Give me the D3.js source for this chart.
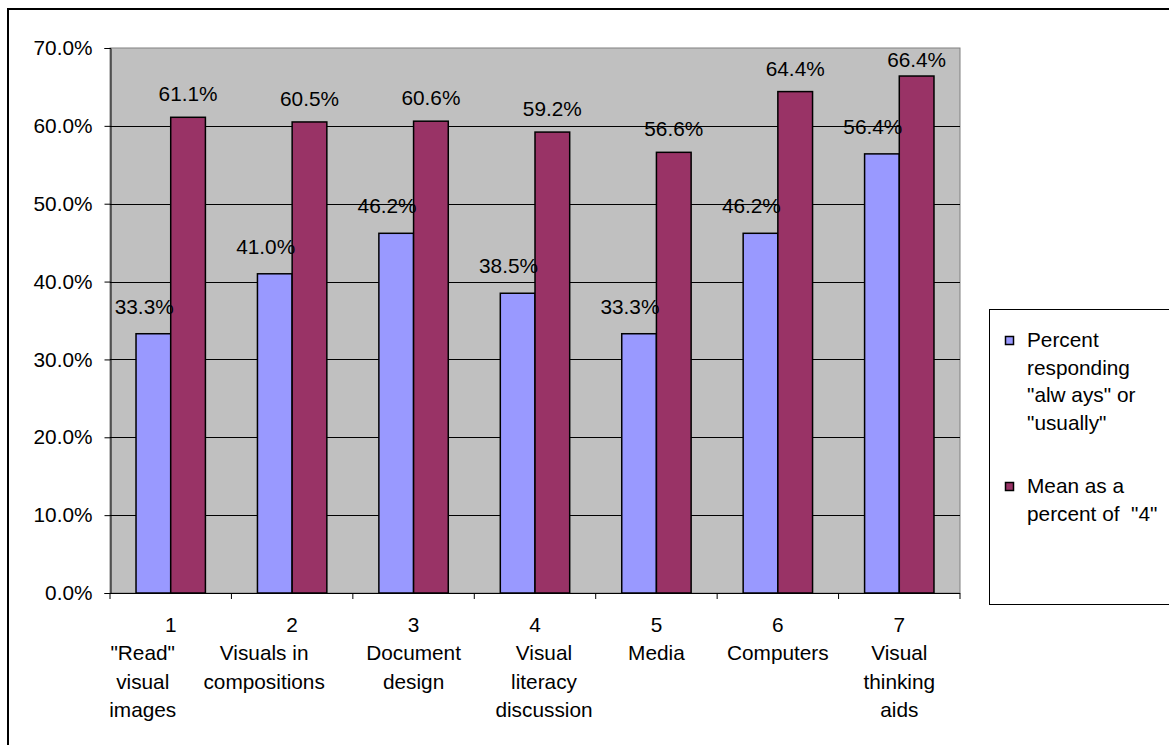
<!DOCTYPE html>
<html>
<head>
<meta charset="utf-8">
<script src="https://cdn.jsdelivr.net/npm/d3@7"></script>
<style>
  html, body { margin: 0; padding: 0; background: #fff; }
  svg { display: block; }
  text { font-family: "Liberation Sans", Arial, sans-serif; fill: #000; }
</style>
</head>
<body>
<svg id="chart" width="1169" height="745"></svg>
<script>
// ---- data ----
const categories = ["1", "2", "3", "4", "5", "6", "7"];
const categoryLines = [
  ["1", "\"Read\"", "visual", "images"],
  ["2", "Visuals in", "compositions"],
  ["3", "Document", "design"],
  ["4", "Visual", "literacy", "discussion"],
  ["5", "Media"],
  ["6", "Computers"],
  ["7", "Visual", "thinking", "aids"]
];
const seriesNames = ["Percent responding \"always\" or \"usually\"", "Mean as a percent of \"4\""];
const percentResponding = [33.3, 41.0, 46.2, 38.5, 33.3, 46.2, 56.4];
const meanPercent = [61.1, 60.5, 60.6, 59.2, 56.6, 64.4, 66.4];
const yTicks = [0, 10, 20, 30, 40, 50, 60, 70];
const legendLines = [
  ["Percent", "responding", "\"alw ays\" or", "\"usually\""],
  ["Mean as a", "percent of  \"4\""]
];

// ---- layout / style ----
const FS = 20.8;
const colors = ["#9999FF", "#993366"];
const plot = { left: 110, right: 960, top: 48, bottom: 593 };
const svg = d3.select("#chart");

// outer chart border
svg.append("rect")
  .attr("x", 8).attr("y", 9).attr("width", 1200).attr("height", 800)
  .attr("fill", "#fff").attr("stroke", "#000").attr("stroke-width", 2);

const x = d3.scaleBand().domain(categories).range([plot.left, plot.right]).padding(0);
const bw = x.bandwidth() / 3.5;
const xs = d3.scaleBand().domain([0, 1]).range([bw * 0.75, bw * 2.75]).padding(0);
const y = d3.scaleLinear().domain([0, 70]).range([plot.bottom, plot.top]);

// plot area
svg.append("rect")
  .attr("x", plot.left).attr("y", plot.top)
  .attr("width", plot.right - plot.left).attr("height", plot.bottom - plot.top)
  .attr("fill", "#C0C0C0").attr("stroke", "#808080").attr("stroke-width", 1);

// gridlines
svg.append("g").selectAll("line").data(yTicks.filter(d => d > 0 && d < 70)).join("line")
  .attr("x1", plot.left).attr("x2", plot.right)
  .attr("y1", d => Math.round(y(d)) + 0.5).attr("y2", d => Math.round(y(d)) + 0.5)
  .attr("stroke", "#000").attr("stroke-width", 1);

// y axis
const yAxis = d3.axisLeft(y).tickValues(yTicks).tickSize(6).tickPadding(12)
  .tickFormat(d => d.toFixed(1) + "%");
const gy = svg.append("g").attr("transform", `translate(${plot.left + 0.5},0)`).call(yAxis);
gy.select(".domain").attr("stroke", "#000");
gy.selectAll(".tick line").attr("stroke", "#000");
gy.selectAll(".tick text").attr("font-size", FS).attr("font-family", "Liberation Sans, Arial, sans-serif").attr("fill", "#000");

// bars
const seriesData = [percentResponding, meanPercent];
seriesData.forEach((vals, si) => {
  svg.append("g").selectAll("rect").data(vals).join("rect")
    .attr("x", (d, i) => x(categories[i]) + xs(si))
    .attr("y", d => y(d))
    .attr("width", xs.bandwidth())
    .attr("height", d => y(0) - y(d))
    .attr("fill", colors[si]).attr("stroke", "#000").attr("stroke-width", 1.5);
});

// x axis (category boundaries)
svg.append("line").attr("x1", plot.left).attr("x2", plot.right)
  .attr("y1", plot.bottom + 0.5).attr("y2", plot.bottom + 0.5).attr("stroke", "#000");
const bounds = categories.map(c => x(c)).concat([plot.right]);
svg.append("g").selectAll("line").data(bounds).join("line")
  .attr("x1", d => d).attr("x2", d => d)
  .attr("y1", plot.bottom).attr("y2", plot.bottom + 6).attr("stroke", "#000");

// category labels
const nudge = [-28, -28, 0, 9, 0, 0, 0];
categoryLines.forEach((lines, i) => {
  const cx = x(categories[i]) + x.bandwidth() / 2;
  const t = svg.append("text").attr("font-size", FS).attr("text-anchor", "middle");
  lines.forEach((ln, j) => {
    t.append("tspan").attr("x", cx + (j === 0 ? 0 : nudge[i])).attr("y", 632 + j * 28.4).text(ln);
  });
});

// data labels
svg.append("g").selectAll("text").data(percentResponding).join("text")
  .attr("font-size", FS).attr("text-anchor", "end")
  .attr("x", (d, i) => x(categories[i]) + xs(1) + 3)
  .attr("y", d => y(d) - 20)
  .text(d => d.toFixed(1) + "%");
svg.append("g").selectAll("text").data(meanPercent).join("text")
  .attr("font-size", FS).attr("text-anchor", "middle")
  .attr("x", (d, i) => x(categories[i]) + xs(1) + xs.bandwidth() / 2)
  .attr("y", d => Math.max(y(d) - 16, 67))
  .text(d => d.toFixed(1) + "%");

// legend
svg.append("rect").attr("x", 989.5).attr("y", 309.5).attr("width", 300).attr("height", 295)
  .attr("fill", "#fff").attr("stroke", "#000").attr("stroke-width", 1);
const legendStart = [347, 493];
legendLines.forEach((lines, si) => {
  svg.append("rect").attr("x", 1005.5).attr("y", legendStart[si] - 10.5).attr("width", 8).attr("height", 8)
    .attr("fill", colors[si]).attr("stroke", "#000").attr("stroke-width", 1.5);
  const t = svg.append("text").attr("font-size", FS).attr("xml:space", "preserve");
  lines.forEach((ln, j) => {
    t.append("tspan").attr("x", 1027).attr("y", legendStart[si] + j * 27.6).text(ln);
  });
});
</script>
</body>
</html>
